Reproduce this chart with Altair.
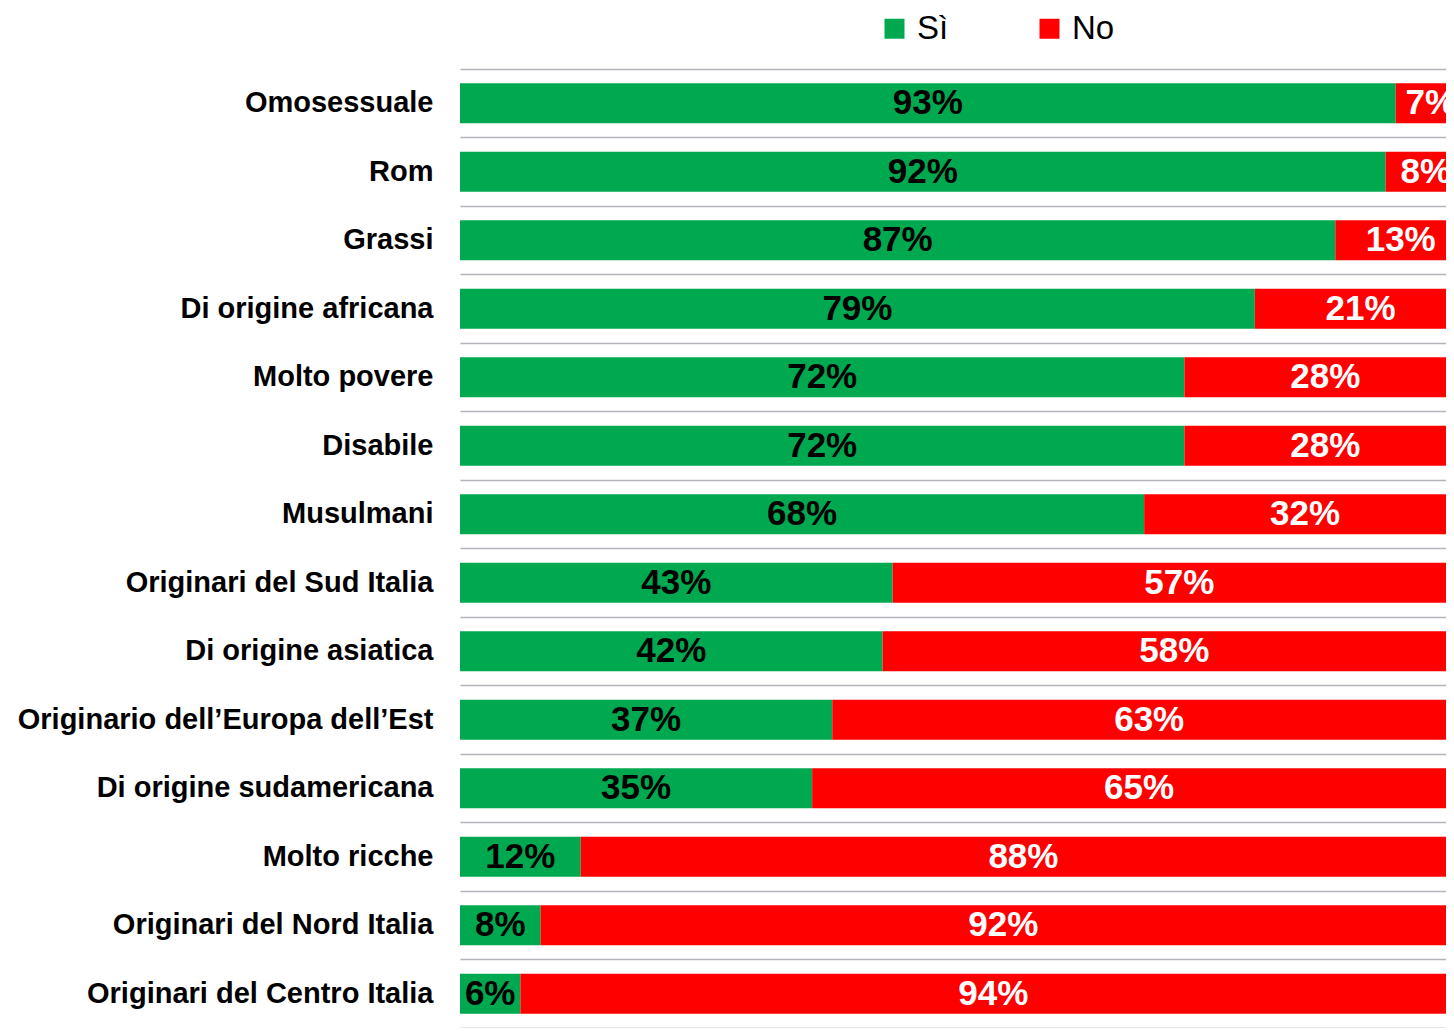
import altair as alt
import pandas as pd

categorie = [
    "Omosessuale",
    "Rom",
    "Grassi",
    "Di origine africana",
    "Molto povere",
    "Disabile",
    "Musulmani",
    "Originari del Sud Italia",
    "Di origine asiatica",
    "Originario dell’Europa dell’Est",
    "Di origine sudamericana",
    "Molto ricche",
    "Originari del Nord Italia",
    "Originari del Centro Italia",
]
si_vals = [93, 92, 87, 79, 72, 72, 68, 43, 42, 37, 35, 12, 8, 6]
no_vals = [7, 8, 13, 21, 28, 28, 32, 57, 58, 63, 65, 88, 92, 94]
serie = ["Sì", "No"]
colori = ["#00A84F", "#FF0000"]
tick_vals = [0, 20, 40, 60, 80]

rows = []
for c, s, n in zip(categorie, si_vals, no_vals):
    rows.append(dict(cat=c, serie="Sì", start=0, end=s, mid=s / 2, label=f"{s}%", ordine=0))
    rows.append(dict(cat=c, serie="No", start=s, end=s + n, mid=s + n / 2, label=f"{n}%", ordine=1))
df = pd.DataFrame(rows)

FONT = "Liberation Sans"

yscale = alt.Scale(paddingInner=0, paddingOuter=0)
# the visible window cuts the plot a little before 100%
xscale = alt.Scale(domain=[0, 98], nice=False, zero=True)

bars = alt.Chart(df).mark_bar(clip=True, size=40).encode(
    y=alt.Y("cat:N", sort=categorie, scale=yscale, title=None),
    x=alt.X(
        "start:Q",
        scale=xscale,
        title=None,
        axis=alt.Axis(values=tick_vals, labels=False, grid=False, ticks=True,
                      tickSize=12, tickColor="#9a9aa2", domainColor="#9a9aa2",
                      domainWidth=1.5, tickWidth=1.5),
    ),
    x2="end:Q",
    color=alt.Color(
        "serie:N",
        scale=alt.Scale(domain=serie, range=colori),
        legend=alt.Legend(
            title=None,
            orient="none",
            direction="horizontal",
            legendX=418,
            legendY=-57,
            symbolType="square",
            symbolSize=400,
            symbolStrokeWidth=0,
            labelFontSize=33,
            labelFont=FONT,
            labelColor="black",
            labelOffset=6,
            columnPadding=84,
        ),
    ),
    order=alt.Order("ordine:Q"),
)

text = alt.Chart(df).mark_text(fontSize=35, fontWeight="bold", font=FONT, clip=True).encode(
    y=alt.Y("cat:N", sort=categorie, scale=yscale, title=None),
    x=alt.X("mid:Q", scale=xscale),
    text="label:N",
    color=alt.condition(alt.datum.serie == "Sì", alt.value("black"), alt.value("white")),
)

chart = (
    alt.layer(bars, text)
    .properties(
        width=986,
        height=959,
        autosize=alt.AutoSizeParams(type="none"),
        padding={"left": 452, "top": 61, "right": 0, "bottom": 0},
    )
    .configure_view(stroke=None)
    .configure_axisY(
        labelFont=FONT,
        labelFontSize=29,
        labelFontWeight="bold",
        labelColor="black",
        labelPadding=27,
        ticks=False,
        domain=False,
        grid=True,
        bandPosition=0,
        gridColor="#b4b4bc",
        gridWidth=1.5,
        labelLimit=600,
    )
)

chart.save("out.html", embed_options={"renderer": "svg", "actions": False})
